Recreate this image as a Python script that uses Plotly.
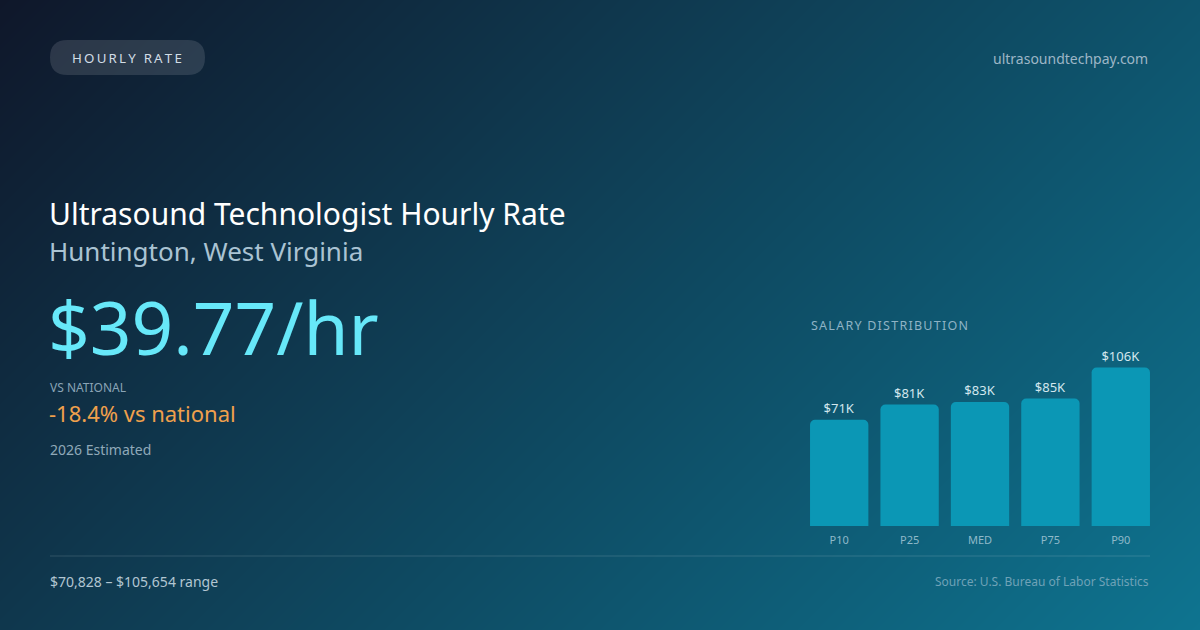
import plotly.graph_objects as go

# salary distribution (annual, USD)
percentiles = ["P10", "P25", "MED", "P75", "P90"]
salaries = [70828, 81000, 82722, 85000, 105654]

hourly_rate = 39.77
vs_national = -18.4
year_label = "2026 Estimated"
location = "Huntington, West Virginia"

FONT = "Noto Sans"
W, H = 1200, 630


def spaced(s, sep):
    return sep.join(list(s))


fig = go.Figure()

# background gradient (slate-900 -> cyan-700, 135deg) drawn on a pixel-space axis
fig.add_trace(go.Heatmap(
    x=[0, W], y=[0, H],
    z=[[0, W / (W + H)], [H / (W + H), 1]],
    colorscale=[[0, "#0f172a"], [1, "#0e7490"]],
    zmin=0, zmax=1, zsmooth="best", showscale=False, hoverinfo="skip",
    xaxis="x", yaxis="y",
))

labels = ["$%dK" % round(v / 1000) for v in salaries]
fig.add_trace(go.Bar(
    x=percentiles, y=salaries, text=labels,
    textposition="outside", cliponaxis=False,
    textfont=dict(family=FONT, size=13, color="#d3e7ee"),
    marker=dict(color="#0b97b5", line=dict(width=0)),
    xaxis="x2", yaxis="y2", hoverinfo="skip",
))

fig.update_layout(
    width=W, height=H,
    margin=dict(l=0, r=0, t=0, b=0),
    paper_bgcolor="#0f172a", plot_bgcolor="rgba(0,0,0,0)",
    showlegend=False,
    font=dict(family=FONT),
    bargap=12 / 70, barcornerradius=5,
    xaxis=dict(domain=[0, 1], range=[0, W], visible=False, fixedrange=True),
    yaxis=dict(domain=[0, 1], range=[H, 0], visible=False, fixedrange=True),
    xaxis2=dict(domain=[804 / W, 1156 / W], anchor="y2", showgrid=False,
                zeroline=False, showline=False, ticks="", ticklabelstandoff=6,
                fixedrange=True,
                tickfont=dict(family=FONT, size=11, color="#8fb9c9")),
    yaxis2=dict(domain=[(H - 526) / H, (H - 346) / H], anchor="x2",
                range=[0, 120000], visible=False, fixedrange=True),
)


def note(x, y, text, size, color, xanchor="left"):
    fig.add_annotation(x=x, y=y, xref="x", yref="y", text=text, showarrow=False,
                       xanchor=xanchor, yanchor="middle",
                       font=dict(family=FONT, size=size, color=color))


# pill badge
r = 17.5
x0, x1, y0, y1 = 50, 205, 40, 75
pill = (f"M {x0 + r} {y0} L {x1 - r} {y0} Q {x1} {y0} {x1} {y0 + r} "
        f"Q {x1} {y1} {x1 - r} {y1} L {x0 + r} {y1} Q {x0} {y1} {x0} {y0 + r} "
        f"Q {x0} {y0} {x0 + r} {y0} Z")
fig.add_shape(type="path", path=pill, xref="x", yref="y",
              fillcolor="rgba(255,255,255,0.12)", line=dict(width=0))
note(126.5, 58, spaced("HOURLY", "\u2009") + "\u2009 \u2009" + spaced("RATE", "\u2009"),
     13.3, "#d2dde6", xanchor="center")

note(1150, 58, "ultrasoundtechpay.com", 14, "#9db6c6", xanchor="right")

note(47, 213, "Ultrasound Technologist Hourly Rate", 30, "#ffffff")
note(47, 251, location, 26, "#aac3d3")
note(46, 326, "$%.2f/hr" % hourly_rate, 73, "#67e8f9")
note(48, 387, "VS NATIONAL", 12, "#8aa4b6")
note(47, 413, "%.1f%% vs national" % vs_national, 22, "#f0a04c")
note(48, 449, year_label, 14, "#90a9b9")

note(809, 325, spaced("SALARY DISTRIBUTION", "\u200a"), 12.5, "#8fb3c5")

fig.add_shape(type="line", x0=50, x1=1150, y0=556, y1=556, xref="x", yref="y",
              line=dict(color="rgba(255,255,255,0.14)", width=1))

note(48, 581, "$%s \u2013 $%s range" % (f"{salaries[0]:,}", f"{salaries[-1]:,}"),
     14, "#b2c6d2")
note(1151, 581, "Source: U.S. Bureau of Labor Statistics", 12, "#6fa2b7", xanchor="right")

fig.write_html("out.html", config={"displayModeBar": False, "staticPlot": True},
               post_script="document.body.style.margin='0';")
